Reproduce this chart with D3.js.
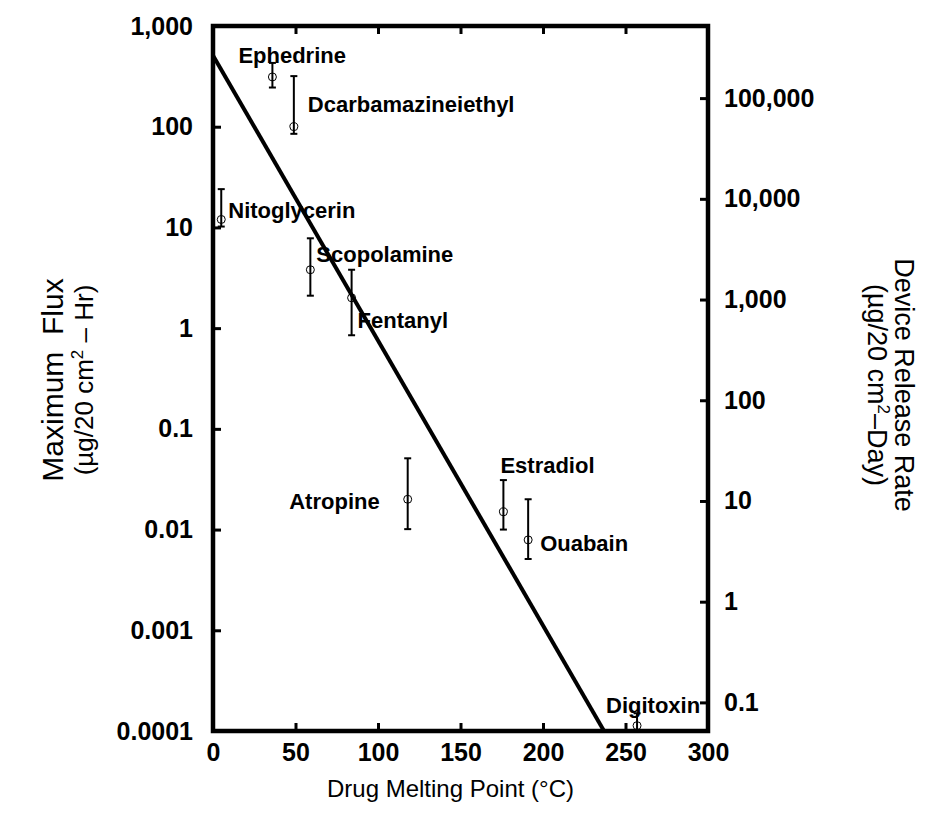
<!DOCTYPE html>
<html>
<head>
<meta charset="utf-8">
<script src="https://cdn.jsdelivr.net/npm/d3@7"></script>
<style>
  body { margin: 0; background: #fff; }
  svg { display: block; }
  text { font-family: "Liberation Sans", Arial, sans-serif; fill: #000; }
</style>
</head>
<body>
<svg id="chart"></svg>
<script>
// Drug data: melting point (°C) and maximum flux (µg/20 cm² - hr)
const drugs = ["Ephedrine", "Dcarbamazineiethyl", "Nitoglycerin", "Scopolamine", "Fentanyl",
               "Atropine", "Estradiol", "Ouabain", "Digitoxin"];
const meltingPoint = [36, 49, 5, 59, 84, 118, 176, 191, 257];
const maxFlux = [312, 100, 12, 3.8, 2.0, 0.020, 0.015, 0.0079, 0.000113];
const fluxHigh = [430, 318, 24, 7.8, 3.8, 0.051, 0.031, 0.020, 0.00015];
const fluxLow = [245, 85, 10.2, 2.1, 0.85, 0.0101, 0.010, 0.0051, 0.00009];

// Regression line end points
const fitX = [0, 237];
const fitY = [510, 0.0001];

// Axis ticks
const xTicks = [0, 50, 100, 150, 200, 250, 300];
const yTicks = [1000, 100, 10, 1, 0.1, 0.01, 0.001, 0.0001];
const yTickLabels = ["1,000", "100", "10", "1", "0.1", "0.01", "0.001", "0.0001"];
const rTicks = [100000, 10000, 1000, 100, 10, 1, 0.1];
const rTickLabels = ["100,000", "10,000", "1,000", "100", "10", "1", "0.1"];
const releaseFactor = 520; // right axis = left axis x factor

// Label offsets (px) from each point
const labelOffset = {
  "Ephedrine": [-34, -14, "start"],
  "Dcarbamazineiethyl": [14, -15, "start"],
  "Nitoglycerin": [7, -1, "start"],
  "Scopolamine": [6, -8, "start"],
  "Fentanyl": [6, 30, "start"],
  "Atropine": [-28, 10, "end"],
  "Estradiol": [-3, -39, "start"],
  "Ouabain": [12, 11, "start"],
  "Digitoxin": [-31, -13, "start"]
};

let width = 942, height = 815;
let plot = { left: 213, right: 708, top: 26, bottom: 731 };

let svg = d3.select("#chart").attr("width", width).attr("height", height);

let x = d3.scaleLinear().domain([0, 300]).range([plot.left, plot.right]);
let y = d3.scaleLog().domain([0.0001, 1000]).range([plot.bottom, plot.top]);
let yR = d3.scaleLog().domain([0.0001 * releaseFactor, 1000 * releaseFactor]).range([plot.bottom, plot.top]);

// Axes
let xAxis = svg.append("g")
  .attr("transform", `translate(0,${plot.bottom})`)
  .call(d3.axisBottom(x).tickValues(xTicks).tickSizeInner(-8).tickSizeOuter(0).tickPadding(12));
let xTop = svg.append("g")
  .attr("transform", `translate(0,${plot.top})`)
  .call(d3.axisTop(x).tickValues(xTicks).tickSizeInner(-8).tickSizeOuter(0).tickFormat(""));
let yAxis = svg.append("g")
  .attr("transform", `translate(${plot.left},0)`)
  .call(d3.axisLeft(y).tickValues(yTicks).tickFormat((d, i) => yTickLabels[i])
    .tickSizeInner(-8).tickSizeOuter(0).tickPadding(20));
let rAxis = svg.append("g")
  .attr("transform", `translate(${plot.right},0)`)
  .call(d3.axisRight(yR).tickValues(rTicks).tickFormat((d, i) => rTickLabels[i])
    .tickSizeInner(-8).tickSizeOuter(0).tickPadding(16));

[xAxis, xTop, yAxis, rAxis].forEach(g => {
  g.select(".domain").remove();
  g.selectAll(".tick line").attr("stroke", "#000").attr("stroke-width", 3);
  g.selectAll(".tick text")
    .style("font-size", "25px").style("font-weight", "bold")
    .style("font-family", "'Liberation Sans', Arial, sans-serif");
});

// Frame
svg.append("rect")
  .attr("x", plot.left).attr("y", plot.top)
  .attr("width", plot.right - plot.left).attr("height", plot.bottom - plot.top)
  .attr("fill", "none").attr("stroke", "#000").attr("stroke-width", 4.5);

svg.append("clipPath").attr("id", "clip")
  .append("rect").attr("x", plot.left).attr("y", plot.top)
  .attr("width", plot.right - plot.left).attr("height", plot.bottom - plot.top);

// Fit line
svg.append("line")
  .attr("x1", x(fitX[0])).attr("y1", y(fitY[0]))
  .attr("x2", x(fitX[1])).attr("y2", y(fitY[1]))
  .attr("stroke", "#000").attr("stroke-width", 4);

let pts = drugs.map((d, i) => ({ name: d, mp: meltingPoint[i], v: maxFlux[i], hi: fluxHigh[i], lo: fluxLow[i] }));

// Error bars
let eb = svg.append("g").attr("clip-path", "url(#clip)")
  .selectAll("g").data(pts).join("g")
  .attr("stroke", "#000").attr("stroke-width", 2);
eb.append("line")
  .attr("x1", d => x(d.mp)).attr("x2", d => x(d.mp))
  .attr("y1", d => y(d.hi)).attr("y2", d => y(d.lo));
eb.append("line")
  .attr("x1", d => x(d.mp) - 3.5).attr("x2", d => x(d.mp) + 3.5)
  .attr("y1", d => y(d.hi)).attr("y2", d => y(d.hi));
eb.append("line")
  .attr("x1", d => x(d.mp) - 3.5).attr("x2", d => x(d.mp) + 3.5)
  .attr("y1", d => y(d.lo)).attr("y2", d => y(d.lo));

// Points
svg.append("g").selectAll("circle").data(pts).join("circle")
  .attr("cx", d => x(d.mp)).attr("cy", d => y(d.v)).attr("r", 4)
  .attr("fill", "none").attr("stroke", "#000").attr("stroke-width", 1);

// Drug labels
svg.append("g").selectAll("text").data(pts).join("text")
  .attr("x", d => x(d.mp) + labelOffset[d.name][0])
  .attr("y", d => y(d.v) + labelOffset[d.name][1])
  .attr("text-anchor", d => labelOffset[d.name][2])
  .style("font-size", "22px").style("font-weight", "bold")
  .text(d => d.name);

// X title
svg.append("text")
  .attr("x", (plot.left + plot.right) / 2 - 10).attr("y", 797)
  .attr("text-anchor", "middle").style("font-size", "24px")
  .text("Drug Melting Point (°C)");

// Left title
let lt = svg.append("g").attr("transform", "translate(0,380) rotate(-90)");
lt.append("text").attr("x", 0).attr("y", 63).attr("text-anchor", "middle")
  .style("font-size", "30px").style("white-space", "pre").text("Maximum  Flux");
let lt2 = lt.append("text").attr("x", 0).attr("y", 93).attr("text-anchor", "middle")
  .style("font-size", "26px");
lt2.append("tspan").text("(\u00b5g/20 cm");
lt2.append("tspan").attr("dy", -10).style("font-size", "17px").text("2");
lt2.append("tspan").attr("dy", 10).text(" \u2013 Hr)");

// Right title
let rt = svg.append("g").attr("transform", "translate(0,385) rotate(90)");
rt.append("text").attr("x", 0).attr("y", -895).attr("text-anchor", "middle")
  .style("font-size", "27px").style("font-family", "'Liberation Sans Narrow', 'Arial Narrow', sans-serif")
  .text("Device Release Rate");
let rt2 = rt.append("text").attr("x", 0).attr("y", -868).attr("text-anchor", "middle")
  .style("font-size", "27px").style("font-family", "'Liberation Sans Narrow', 'Arial Narrow', sans-serif");
rt2.append("tspan").text("(\u00b5g/20 cm");
rt2.append("tspan").attr("dy", -10).style("font-size", "17px").text("2");
rt2.append("tspan").attr("dy", 10).text("\u2013Day)");
</script>
</body>
</html>
